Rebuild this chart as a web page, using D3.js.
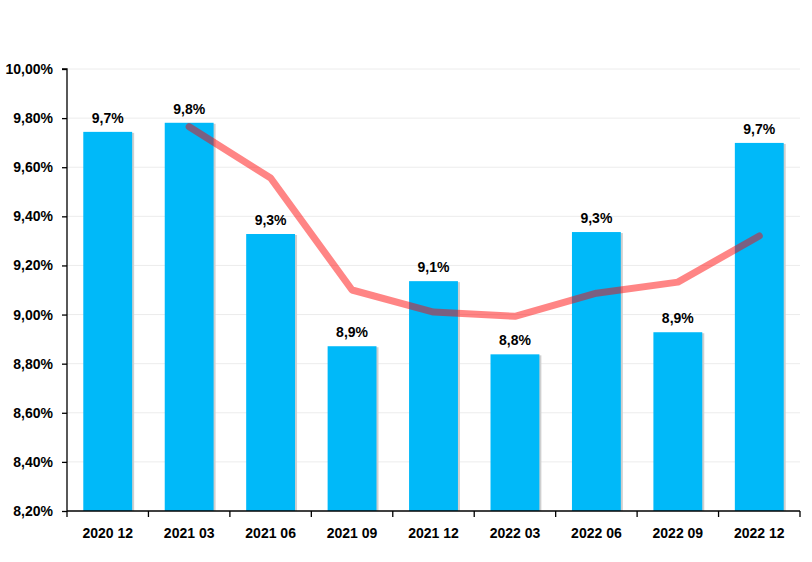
<!DOCTYPE html>
<html><head><meta charset="utf-8">
<script src="https://cdn.jsdelivr.net/npm/d3@7"></script>
<style>body{margin:0;background:#fff}svg{display:block}</style>
</head><body>
<svg id="c" width="812" height="562"></svg>
<script>
const categories = ["2020 12","2021 03","2021 06","2021 09","2021 12","2022 03","2022 06","2022 09","2022 12"];
const barValues = [9.744, 9.781, 9.328, 8.871, 9.136, 8.838, 9.336, 8.928, 9.699];
const lineValues = [null, 9.765, 9.556, 9.100, 9.010, 8.993, 9.087, 9.132, 9.320];
const yTicks = [8.2, 8.4, 8.6, 8.8, 9.0, 9.2, 9.4, 9.6, 9.8, 10.0];

const svg = d3.select("#c");
const m = {left: 67, right: 12, top: 69, bottom: 51};
const W = 812, H = 562;
const x = d3.scaleBand().domain(categories).range([m.left, W - m.right]).paddingInner(0.4).paddingOuter(0.2);
const y = d3.scaleLinear().domain([8.2, 10.0]).range([H - m.bottom, m.top]);
const font = "'Liberation Sans', Arial, sans-serif";
const fmtTick = v => v.toFixed(2).replace(".", ",") + "%";
const fmtLbl = v => v.toFixed(1).replace(".", ",") + "%";

// gridlines
svg.append("g").selectAll("line").data(yTicks.slice(1)).join("line")
  .attr("x1", m.left).attr("x2", W - m.right)
  .attr("y1", d => y(d)).attr("y2", d => y(d))
  .attr("stroke", "#ececec").attr("stroke-width", 1);

// bar shadows
svg.append("g").selectAll("rect").data(barValues).join("rect")
  .attr("x", (d, i) => x(categories[i]) + 2).attr("y", d => y(d) + 1)
  .attr("width", x.bandwidth()).attr("height", d => y(8.2) - y(d) - 1)
  .attr("fill", "#cfcfcf");
// bars
svg.append("g").selectAll("rect").data(barValues).join("rect")
  .attr("x", (d, i) => x(categories[i])).attr("y", d => y(d))
  .attr("width", x.bandwidth()).attr("height", d => y(8.2) - y(d))
  .attr("fill", "#00B9F9");

// line
const line = d3.line().defined(d => d != null)
  .x((d, i) => x(categories[i]) + x.bandwidth() / 2).y(d => y(d));
svg.append("path").datum(lineValues).attr("d", line)
  .attr("fill", "none").attr("stroke", "rgba(255,0,0,0.48)")
  .attr("stroke-width", 7).attr("stroke-linecap", "round").attr("stroke-linejoin", "round");

// bar labels
svg.append("g").selectAll("text").data(barValues).join("text")
  .attr("x", (d, i) => x(categories[i]) + x.bandwidth() / 2).attr("y", d => y(d) - 9)
  .attr("text-anchor", "middle").attr("font-family", font).attr("font-weight", "bold")
  .attr("font-size", 14).attr("fill", "#000").text(d => fmtLbl(d));

// y axis
const ya = svg.append("g").attr("transform", `translate(${m.left},0)`)
  .call(d3.axisLeft(y).tickValues(yTicks).tickFormat(fmtTick).tickSize(5).tickPadding(9));
ya.select(".domain").attr("stroke", "#000").attr("stroke-width", 1.3).attr("d", `M-5,${y(10)}H0V${y(8.2)}`);
ya.selectAll(".tick line").attr("stroke", "#000").attr("stroke-width", 1.3);
ya.selectAll("text").attr("font-family", font).attr("font-weight", "bold").attr("font-size", 14).attr("fill", "#000");

// x axis
const xa = svg.append("g").attr("transform", `translate(0,${y(8.2)})`)
  .call(d3.axisBottom(x).tickSize(0).tickPadding(14));
xa.select(".domain").attr("stroke", "#000").attr("stroke-width", 1.3).attr("d", `M${m.left},0H${W - m.right}`);
xa.selectAll("text").attr("font-family", font).attr("font-weight", "bold").attr("font-size", 14).attr("fill", "#000").attr("dy", "0.9em");
const step = x.step();
const bounds = d3.range(categories.length + 1).map(i => m.left + i * (W - m.right - m.left) / categories.length);
svg.append("g").selectAll("line").data(bounds).join("line")
  .attr("x1", d => d).attr("x2", d => d)
  .attr("y1", y(8.2)).attr("y2", y(8.2) + 6)
  .attr("stroke", "#000").attr("stroke-width", 1.3);
</script>
</body></html>
